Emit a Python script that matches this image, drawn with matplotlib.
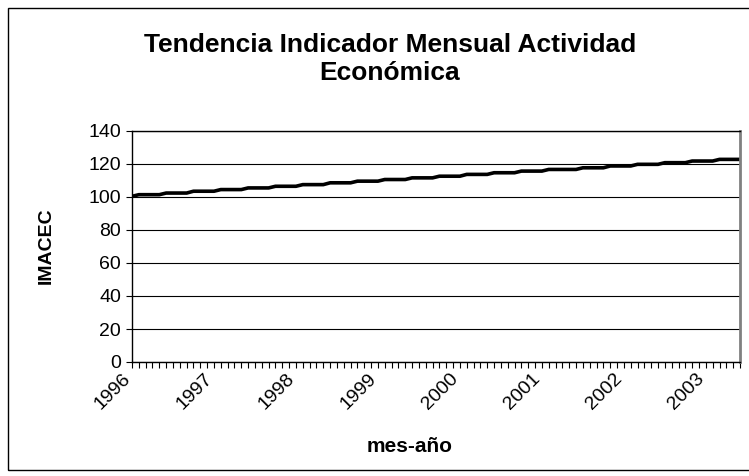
import numpy as np
import pandas as pd
import matplotlib
matplotlib.use('Agg')
import matplotlib.pyplot as plt
from matplotlib.patches import Rectangle

plt.rcParams['font.family'] = ['Liberation Sans', 'DejaVu Sans']

# IMACEC mensual (ene-1996 .. jun-2003)
imacec = [100.4,
          101.4, 101.4, 101.4, 101.4,
          102.4, 102.4, 102.4, 102.4,
          103.5, 103.5, 103.5, 103.5,
          104.5, 104.5, 104.5, 104.5,
          105.5, 105.5, 105.5, 105.5,
          106.5, 106.5, 106.5, 106.5,
          107.5, 107.5, 107.5, 107.5,
          108.6, 108.6, 108.6, 108.6,
          109.6, 109.6, 109.6, 109.6,
          110.6, 110.6, 110.6, 110.6,
          111.6, 111.6, 111.6, 111.6,
          112.6, 112.6, 112.6, 112.6,
          113.7, 113.7, 113.7, 113.7,
          114.7, 114.7, 114.7, 114.7,
          115.7, 115.7, 115.7, 115.7,
          116.7, 116.7, 116.7, 116.7, 116.7,
          117.7, 117.7, 117.7, 117.7,
          118.8, 118.8, 118.8, 118.8,
          119.8, 119.8, 119.8, 119.8,
          120.8, 120.8, 120.8, 120.8,
          121.8, 121.8, 121.8, 121.8,
          122.8, 122.8, 122.8, 122.8]

meses = pd.date_range('1996-01-01', periods=len(imacec), freq='MS')
y_ticks = [0, 20, 40, 60, 80, 100, 120, 140]

W, H = 749, 476
fig = plt.figure(figsize=(W / 100, H / 100), dpi=100)

# marco del area del grafico
fig.patches.append(Rectangle((8 / W, 1 - 470 / H), 800 / W, 462 / H,
                             transform=fig.transFigure, fill=False,
                             edgecolor='black', lw=1.0))

ax = fig.add_axes([132 / W, 1 - 362 / H, (740 - 132) / W, (362 - 131) / H])
x = np.arange(len(imacec))
ax.plot(x, imacec, color='black', lw=2.6)

ax.set_xlim(0, len(imacec) - 1)
ax.set_ylim(0, 140)
ax.set_yticks(y_ticks)
ax.set_yticklabels([str(v) for v in y_ticks], fontsize=14)
ax.grid(axis='y', color='black', lw=0.8)
ax.set_axisbelow(True)

ax.set_xticks(x)
ax.set_xticklabels([])
ax.tick_params(axis='x', length=4, width=0.8, direction='out')
ax.tick_params(axis='y', length=4, width=0.8, direction='out', pad=4)

for s in ['left', 'bottom', 'top']:
    ax.spines[s].set_color('black')
    ax.spines[s].set_linewidth(1.0)
ax.spines['right'].set_color('#808080')
ax.spines['right'].set_linewidth(2.0)

# etiquetas de anio en enero
for i, m in enumerate(meses):
    if m.month == 1:
        ax.annotate(str(m.year), xy=(i, 0), xycoords=('data', 'axes fraction'),
                    xytext=(-10, -8), textcoords='offset pixels',
                    rotation=45, ha='right', va='top', rotation_mode='anchor',
                    fontsize=14)

fig.text(390 / W, 1 - 52 / H, 'Tendencia Indicador Mensual Actividad',
         ha='center', va='baseline', fontsize=19, fontweight='bold')
fig.text(390 / W, 1 - 80 / H, 'Económica',
         ha='center', va='baseline', fontsize=19, fontweight='bold')

fig.text(46 / W, 1 - 246 / H, 'IMACEC', rotation=90, ha='center', va='center',
         fontsize=14, fontweight='bold')
fig.text(410 / W, 1 - 446 / H, 'mes-año', ha='center', va='center',
         fontsize=15, fontweight='bold')

fig.savefig('out.png', dpi=100)
